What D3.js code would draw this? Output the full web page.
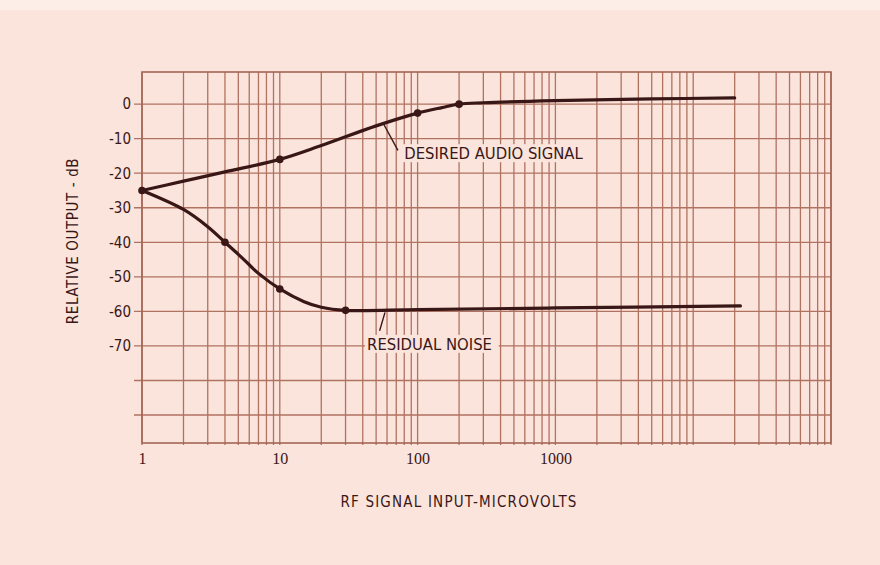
<!DOCTYPE html>
<html>
<head>
<meta charset="utf-8">
<script src="https://cdn.jsdelivr.net/npm/d3@7"></script>
<style>
  body { margin: 0; background: #fbe4dc; }
</style>
</head>
<body>
<div id="chart"></div>
<script>
// values
const xTickLabels = [1, 10, 100, 1000];
const yTickLabels = [0, -10, -20, -30, -40, -50, -60, -70];
const yGridValues = [0, -10, -20, -30, -40, -50, -60, -70, -80, -90];

const desiredX = [1, 2, 4, 10, 20, 50, 100, 150, 200, 300, 1000, 5000, 20000];
const desiredY = [-25, -22.3, -19.6, -16, -12, -6.3, -2.6, -1, 0, 0.4, 1, 1.5, 1.8];
const noiseX = [1, 2, 3, 4, 5, 6, 7, 10, 15, 20, 30, 100, 1000, 22000];
const noiseY = [-25, -30.5, -35.5, -40, -43.5, -46.5, -49, -53.5, -57.2, -58.8, -59.7, -59.5, -59, -58.4];

const desiredDotsX = [1, 10, 100, 200];
const desiredDotsY = [-25, -16, -2.6, 0];
const noiseDotsX = [4, 10, 30];
const noiseDotsY = [-40, -53.5, -59.7];

const W = 880, H = 565;
const margin = {top: 72, right: 49, bottom: 122, left: 142};
const width = W - margin.left - margin.right;
const height = H - margin.top - margin.bottom;

const gridColor = "#b07261";
const inkColor = "#3a1717";
const sans = "'Liberation Sans Narrow', 'DejaVu Sans Condensed', sans-serif";
const serif = "'Liberation Serif', 'DejaVu Serif', serif";

const svg = d3.select("#chart").append("svg")
    .attr("width", W)
    .attr("height", H);

svg.append("rect").attr("width", W).attr("height", H).attr("fill", "#fbe4dc");
svg.append("rect").attr("width", W).attr("height", 10).attr("fill", "#fdeee8");

const g = svg.append("g").attr("transform", "translate(" + margin.left + "," + margin.top + ")");

const x = d3.scaleLog().domain([1, 100000]).range([0, width]);
const y = d3.scaleLinear().domain([-98.1, 9.3]).range([height, 0]);

// log grid: 1..9 in each decade
const xGrid = [];
for (let k = 0; k < 5; k++) {
    for (let m = 1; m < 10; m++) xGrid.push(m * Math.pow(10, k));
}
xGrid.push(100000);

g.append("g").selectAll("line")
    .data(xGrid)
    .join("line")
    .attr("x1", d => x(d)).attr("x2", d => x(d))
    .attr("y1", 0).attr("y2", height + 2)
    .attr("stroke", gridColor)
    .attr("stroke-width", 1.3);

g.append("g").selectAll("line")
    .data(yGridValues)
    .join("line")
    .attr("x1", -8).attr("x2", width)
    .attr("y1", d => y(d)).attr("y2", d => y(d))
    .attr("stroke", gridColor)
    .attr("stroke-width", 1.3);

g.append("rect")
    .attr("width", width).attr("height", height)
    .attr("fill", "none")
    .attr("stroke", "#a36655")
    .attr("stroke-width", 1.6);

// tick labels (plain hyphen as in the original)
const yAxis = g.append("g")
    .call(d3.axisLeft(y).tickValues(yTickLabels).tickSize(0).tickPadding(11).tickFormat(d => String(d)));
yAxis.select(".domain").remove();
yAxis.selectAll("text")
    .attr("font-family", sans)
    .attr("font-size", 15)
    .attr("fill", inkColor);

const xAxis = g.append("g")
    .attr("transform", "translate(0," + height + ")")
    .call(d3.axisBottom(x).tickValues(xTickLabels).tickSize(0).tickPadding(10).tickFormat(d => String(d)));
xAxis.select(".domain").remove();
xAxis.selectAll("text")
    .attr("font-family", serif)
    .attr("font-size", 16)
    .attr("fill", inkColor);

// curves
const line = d3.line()
    .x(d => x(d[0]))
    .y(d => y(d[1]))
    .curve(d3.curveCatmullRom.alpha(0.5));

const series = [d3.zip(desiredX, desiredY), d3.zip(noiseX, noiseY)];
g.append("g").selectAll("path")
    .data(series)
    .join("path")
    .attr("d", line)
    .attr("fill", "none")
    .attr("stroke", inkColor)
    .attr("stroke-width", 3.2)
    .attr("stroke-linejoin", "round")
    .attr("stroke-linecap", "round");

const dots = d3.zip(desiredDotsX, desiredDotsY).concat(d3.zip(noiseDotsX, noiseDotsY));
g.append("g").selectAll("circle")
    .data(dots)
    .join("circle")
    .attr("cx", d => x(d[0]))
    .attr("cy", d => y(d[1]))
    .attr("r", 3.8)
    .attr("fill", inkColor);

// annotations with leader lines
const notes = [
    {text: "DESIRED AUDIO SIGNAL", tx: 80, ty: -14.2, from: [56, -5.4], to: [72, -13.4]},
    {text: "RESIDUAL NOISE", tx: 43, ty: -69.4, from: [58, -60.3], to: [53, -65.6]}
];

const note = g.append("g").selectAll("g").data(notes).join("g");
note.append("line")
    .attr("x1", d => x(d.from[0])).attr("y1", d => y(d.from[1]))
    .attr("x2", d => x(d.to[0])).attr("y2", d => y(d.to[1]))
    .attr("stroke", inkColor)
    .attr("stroke-width", 1.4);
note.append("rect")
    .attr("x", d => x(d.tx) - 2)
    .attr("y", d => y(d.ty) - 9)
    .attr("width", d => d.text.length * 9.4 + 2)
    .attr("height", 18)
    .attr("fill", "#fbe4dc");
note.append("text")
    .attr("x", d => x(d.tx))
    .attr("y", d => y(d.ty))
    .attr("dy", "0.36em")
    .attr("font-family", sans)
    .attr("font-size", 16.5)
    .attr("fill", inkColor)
    .text(d => d.text);

// axis titles
svg.append("text")
    .attr("transform", "translate(78,241) rotate(-90)")
    .attr("text-anchor", "middle")
    .attr("font-family", sans)
    .attr("font-size", 15)
    .attr("letter-spacing", 0.6)
    .attr("fill", inkColor)
    .text("RELATIVE OUTPUT - dB");

svg.append("text")
    .attr("x", 459)
    .attr("y", 507)
    .attr("text-anchor", "middle")
    .attr("font-family", sans)
    .attr("font-size", 15)
    .attr("letter-spacing", 1.2)
    .attr("fill", inkColor)
    .text("RF SIGNAL INPUT-MICROVOLTS");
</script>
</body>
</html>
